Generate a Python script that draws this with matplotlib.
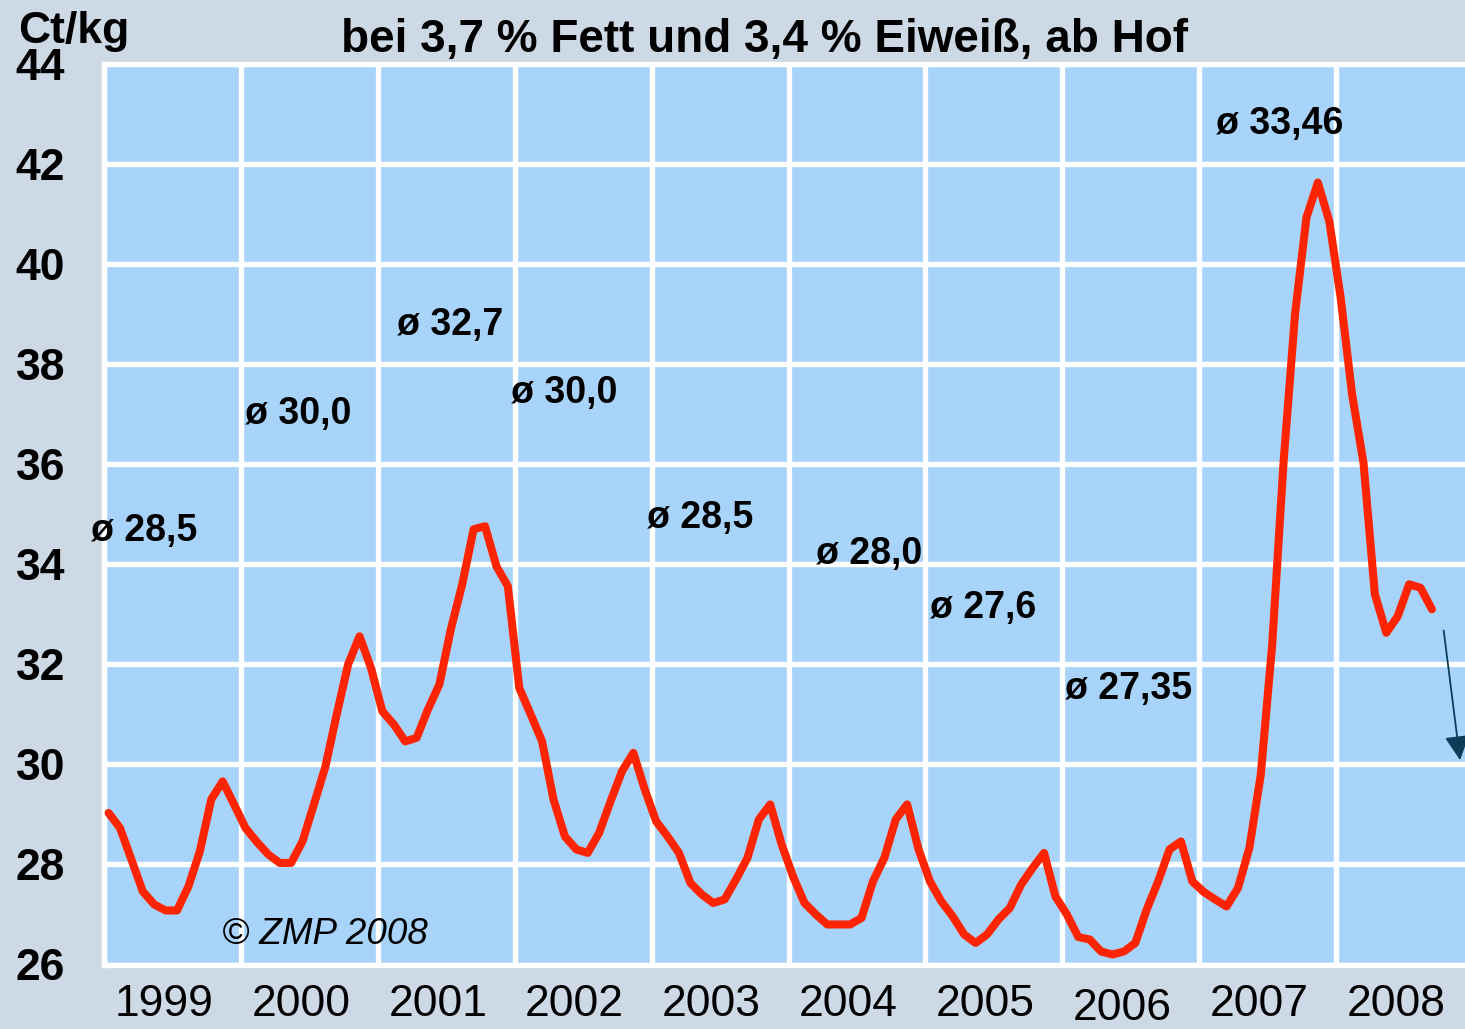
import matplotlib.pyplot as plt
import numpy as np

# Milchpreis, Ct/kg, monthly Jan 1999 - Sep 2008
prices = [
    29.03, 28.73, 28.10, 27.46, 27.20, 27.08, 27.08, 27.56, 28.26, 29.30, 29.66, 29.20,  # 1999
    28.73, 28.45, 28.20, 28.03, 28.03, 28.46, 29.20, 29.95, 31.00, 32.00, 32.56, 31.93,  # 2000
    31.06, 30.80, 30.46, 30.53, 31.10, 31.60, 32.70, 33.60, 34.70, 34.76, 33.96, 33.56,  # 2001
    31.53, 31.00, 30.46, 29.30, 28.56, 28.30, 28.23, 28.63, 29.26, 29.86, 30.23, 29.50,  # 2002
    28.86, 28.56, 28.23, 27.63, 27.40, 27.23, 27.30, 27.70, 28.13, 28.90, 29.20, 28.40,  # 2003
    27.76, 27.23, 27.00, 26.80, 26.80, 26.80, 26.93, 27.66, 28.13, 28.90, 29.20, 28.30,  # 2004
    27.66, 27.26, 26.96, 26.60, 26.43, 26.60, 26.90, 27.13, 27.60, 27.93, 28.23, 27.36,  # 2005
    27.00, 26.55, 26.50, 26.26, 26.20, 26.26, 26.43, 27.10, 27.66, 28.30, 28.46, 27.66,  # 2006
    27.45, 27.30, 27.16, 27.53, 28.33, 29.80, 32.40, 36.06, 39.00, 40.93, 41.63, 40.86,  # 2007
    39.33, 37.40, 36.03, 33.40, 32.63, 32.96, 33.60, 33.53, 33.10,                      # 2008
]
years = ['1999', '2000', '2001', '2002', '2003', '2004', '2005', '2006', '2007', '2008']
averages = ['ø 28,5', 'ø 30,0', 'ø 32,7', 'ø 30,0', 'ø 28,5', 'ø 28,0', 'ø 27,6', 'ø 27,35', 'ø 33,46']
avg_x = [-1.1, 12.4, 25.7, 35.7, 47.6, 62.4, 72.4, 84.2, 97.5]
avg_y = [34.46, 36.80, 38.58, 37.22, 34.72, 34.00, 32.92, 31.30, 42.60]

plt.rcParams['font.family'] = ['Liberation Sans', 'DejaVu Sans']

W, H = 1465, 1029
fig = plt.figure(figsize=(W / 100, H / 100), dpi=100)
fig.patch.set_facecolor('#cdd9e5')

left, right, top, bottom = 104, 1465, 64, 964.5
ax = fig.add_axes([left / W, 1 - bottom / H, (right - left) / W, (bottom - top) / H])
ax.set_facecolor('#a8d4fc')

month_px = 136.9 / 12
ax.set_xlim(0, (right - left) / month_px)
ax.set_ylim(26, 44)

# grid
ax.set_xticks(np.arange(0, 120, 12))
ax.set_yticks(np.arange(26, 45, 2))
ax.grid(True, color='white', linewidth=3.8)
ax.set_axisbelow(True)
for s in ax.spines.values():
    s.set_color('white')
    s.set_linewidth(3.8)
ax.spines['right'].set_visible(False)

ax.tick_params(axis='x', length=0, labelbottom=False)
ax.tick_params(axis='y', length=0, pad=28, labelsize=32)
for lab in ax.get_yticklabels():
    lab.set_fontweight('bold')

# plot
x = np.arange(len(prices)) + 0.4
ax.plot(x, prices, color='#ff2400', linewidth=5.8, solid_joinstyle='round',
        solid_capstyle='round', zorder=3)

# year labels (2006 sits a little lower)
xt = ax.get_xaxis_transform()
for i, yr in enumerate(years):
    yy = -0.0616 if yr == '2006' else -0.0572
    ax.text(12 * i + 5.25, yy, yr, transform=xt, ha='center', va='baseline', fontsize=32)

# averages
for t, ax_, ay_ in zip(averages, avg_x, avg_y):
    ax.text(ax_, ay_, t, fontsize=27, fontweight='bold', ha='left', va='baseline', zorder=4)

ax.text(10.3, 26.4, '© ZMP 2008', fontsize=26.5, style='italic', ha='left', va='baseline')

# arrow
ax.annotate('', xy=(118.9, 30.03), xytext=(117.4, 32.73),
            arrowprops=dict(arrowstyle='-|>,head_length=0.75,head_width=0.38',
                            mutation_scale=20, color='#0b3d59', lw=1.3))

# labels
fig.text(18 / W, 1 - 43 / H, 'Ct/kg', fontsize=32, fontweight='bold', ha='left', va='baseline')
fig.text(764.5 / W, 1 - 52 / H, 'bei 3,7 % Fett und 3,4 % Eiweiß, ab Hof',
         fontsize=33, fontweight='bold', ha='center', va='baseline')

fig.savefig('out.png', dpi=100, facecolor=fig.get_facecolor())
